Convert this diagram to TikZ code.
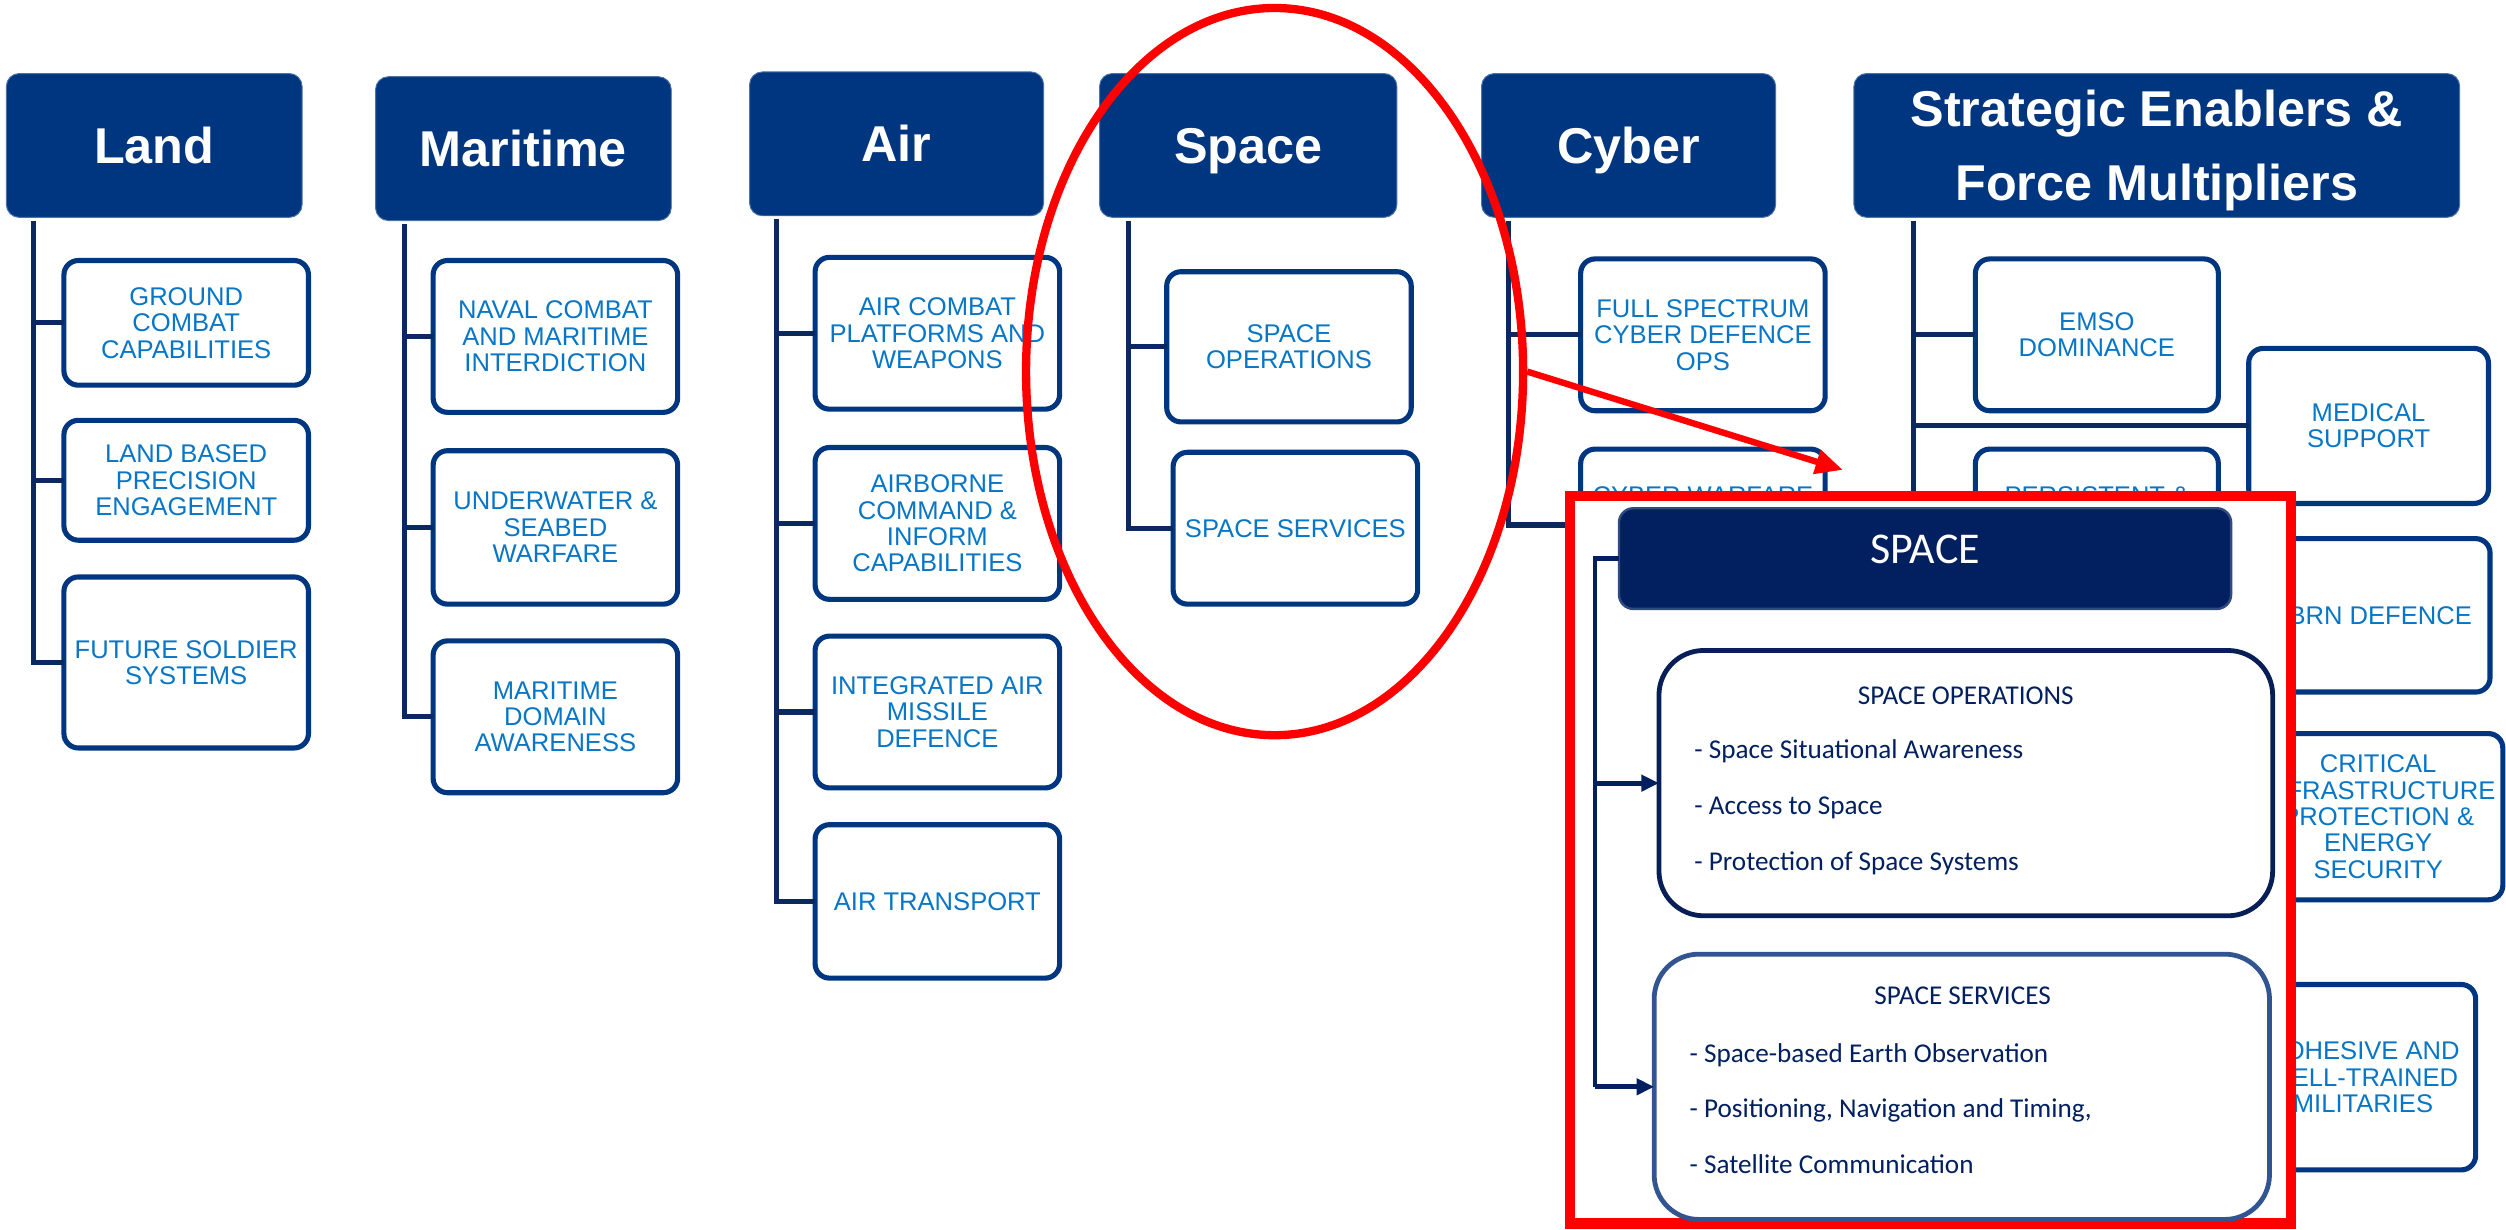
\documentclass[tikz,border=0pt]{standalone}
\usepackage{fontspec}
\setmainfont{Liberation Sans}
\newfontfamily\calibri{Carlito}
\usetikzlibrary{arrows.meta,shapes.geometric}

\definecolor{hdblue}{RGB}{0,54,128}
\definecolor{lnblue}{RGB}{12,40,96}
\definecolor{txblue}{RGB}{8,118,198}
\definecolor{spnavy}{RGB}{2,32,96}
\definecolor{spedge}{RGB}{47,75,130}
\definecolor{opsedge}{RGB}{8,30,86}
\definecolor{svedge}{RGB}{50,84,145}

\begin{document}
\begin{tikzpicture}[x=1pt,y=1pt,yscale=-1,xscale=1,
  hd/.style={fill=hdblue, draw=hdblue!70, line width=0.6pt, rounded corners=8pt, text=white, font=\fontsize{31.5}{46}\selectfont\bfseries, align=center, anchor=north west, inner sep=0pt, outer sep=0pt, minimum width=185, minimum height=90, text height=22.5pt, text depth=0pt},
  capbox/.style={draw=hdblue, line width=3.2pt, fill=white, rounded corners=9pt, text=txblue, font=\fontsize{16}{16.5}\selectfont, align=center, anchor=north west, inner sep=0pt, outer sep=0pt, minimum width=153},
  captxt/.style={text=txblue, font=\fontsize{16}{16.5}\selectfont, anchor=north, inner sep=0pt},
  trunk/.style={draw=lnblue, line width=3.2pt},
  sphd/.style={fill=spnavy, draw=spedge, line width=1.5pt, rounded corners=9pt, text=white, font=\calibri\fontsize{27.5}{30}\selectfont, anchor=north west, inner sep=0pt, outer sep=0pt, text height=17.7pt, text depth=12pt},
  spbox/.style={line width=3pt, fill=white, rounded corners=28pt, anchor=north west, inner sep=0pt, outer sep=0pt},
  sptxt/.style={text=spnavy, font=\calibri\fontsize{17}{20}\selectfont, inner sep=0pt, text height=11pt, text depth=0pt},
  spline/.style={draw=spnavy, line width=3pt},
  callout/.style={draw=red, line width=4pt}
]
\useasboundingbox (0,0) rectangle (1568,769);

%Rounded Rect Land
\draw (4,46) node [hd] (land) {Land};
\draw (40,163) node [capbox, minimum height=78] (land1) {GROUND\\COMBAT\\CAPABILITIES};
\draw (40,263) node [capbox, minimum height=75] (land2) {LAND BASED\\PRECISION\\ENGAGEMENT};
\draw (40,361) node [capbox, minimum height=107] (land3) {FUTURE SOLDIER\\SYSTEMS};
%Straight Lines
\coordinate (landT) at (21,138);
\draw[trunk] (landT) |- (land3.west);
\draw[trunk] (landT |- land1.west) -- (land1.west);
\draw[trunk] (landT |- land2.west) -- (land2.west);

%Rounded Rect Maritime
\draw (235,48) node [hd] (mar) {Maritime};
\draw (271,163) node [capbox, minimum height=95] (mar1) {NAVAL COMBAT\\AND MARITIME\\INTERDICTION};
\draw (271,282) node [capbox, minimum height=96] (mar2) {UNDERWATER \&\\SEABED\\WARFARE};
\draw (271,401) node [capbox, minimum height=95] (mar3) {MARITIME\\DOMAIN\\AWARENESS};
%Straight Lines
\coordinate (marT) at (253,140);
\draw[trunk] (marT) |- (mar3.west);
\draw[trunk] (marT |- mar1.west) -- (mar1.west);
\draw[trunk] (marT |- mar2.west) -- (mar2.west);

%Rounded Rect Air
\draw (469,45) node [hd, minimum width=184] (air) {Air};
\draw (510,161) node [capbox, minimum height=95] (air1) {AIR COMBAT\\PLATFORMS AND\\WEAPONS};
\draw (510,280) node [capbox, minimum height=95] (air2) {AIRBORNE\\COMMAND \&\\INFORM\\CAPABILITIES};
\draw (510,398) node [capbox, minimum height=95] (air3) {INTEGRATED AIR\\MISSILE\\DEFENCE};
\draw (510,516) node [capbox, minimum height=96] (air4) {AIR TRANSPORT};
%Straight Lines
\coordinate (airT) at (486,137);
\draw[trunk] (airT) |- (air4.west);
\draw[trunk] (airT |- air1.west) -- (air1.west);
\draw[trunk] (airT |- air2.west) -- (air2.west);
\draw[trunk] (airT |- air3.west) -- (air3.west);

%Rounded Rect Space
\draw (688,46) node [hd, minimum width=186] (spc) {Space};
\draw (730,170) node [capbox, minimum height=94] (spc1) {SPACE\\OPERATIONS};
\draw (734,283) node [capbox, minimum height=95] (spc2) {SPACE SERVICES};
%Straight Lines
\coordinate (spcT) at (706,138);
\draw[trunk] (spcT) |- (spc2.west);
\draw[trunk] (spcT |- spc1.west) -- (spc1.west);

%Rounded Rect Cyber
\draw (927,46) node [hd, minimum width=184] (cyb) {Cyber};
\draw (989,162) node [capbox, minimum height=95] (cyb1) {FULL SPECTRUM\\CYBER DEFENCE\\OPS};
\draw (989,281) node [capbox, minimum height=95] (cyb2) {};
% Text Node
\draw (cyb2.north |- 0,304.5) node [captxt] (cyb2txt) {CYBER WARFARE};
%Straight Lines
\coordinate (cybT) at (944,138);
\draw[trunk] (cybT) |- (cyb2.west);
\draw[trunk] (cybT |- cyb1.west) -- (cyb1.west);

%Rounded Rect Strategic Enablers
\draw (1160,46) node [hd, minimum width=379, text height=68.5pt] (sef) {Strategic Enablers \&\\Force Multipliers};
\draw (1236,162) node [capbox, minimum width=152, minimum height=95] (sef1) {EMSO\\DOMINANCE};
\draw (1236,281) node [capbox, minimum width=152, minimum height=95] (sef2) {};
% Text Node
\draw (sef2.north |- 0,304.5) node [captxt] (sef2txt) {PERSISTENT \&};
\draw (1407,218) node [capbox, minimum width=150, minimum height=97] (sef3) {MEDICAL\\SUPPORT};
\draw (1409,337) node [capbox, minimum width=149, minimum height=96] (sef4) {CBRN DEFENCE};
\draw (1410,459) node [capbox, minimum width=156, minimum height=104] (sef5) {CRITICAL\\INFRASTRUCTURE\\PROTECTION \&\\ENERGY\\SECURITY};
\draw (1408,616) node [capbox, minimum width=141, minimum height=116] (sef6) {COHESIVE AND\\WELL-TRAINED\\MILITARIES};
%Straight Lines
\coordinate (sefT) at (1197,138);
\draw[trunk] (sefT) |- (sef6.west);
\draw[trunk] (sefT |- sef1.west) -- (sef1.west);
\draw[trunk] (sefT |- sef3.west) -- (sef3.west);
\draw[trunk] (sefT |- sef2.west) -- (sef2.west);
\draw[trunk] (sefT |- sef4.west) -- (sef4.west);
\draw[trunk] (sefT |- sef5.west) -- (sef5.west);

%Ellipse and call-out arrow
\node [draw=red, line width=5.2pt, ellipse, minimum width=311, minimum height=455, inner sep=0pt] (focus) at (797.5,232.5) {};
\coordinate (zoomTip) at (1153,294);
\draw[callout, -{Triangle[length=17pt,width=15pt]}] (focus.east) -- (zoomTip);

%Zoom panel
\draw[red, line width=6.5pt, fill=white] (982.5,310.5) rectangle (1433.5,765.5);
\draw (1013,318) node [sphd, minimum width=383, minimum height=63] (spHead) {SPACE};
\draw (1038,407) node [spbox, draw=opsedge, minimum width=384, minimum height=166] (spOps) {};
\draw (1035,597) node [spbox, draw=svedge, minimum width=385, minimum height=166] (spSvc) {};
% Text Node
\draw (1230,435) node [sptxt] (opsHd) {SPACE OPERATIONS};
\draw (1060,469) node [sptxt, anchor=west] (ops1) {- Space Situational Awareness};
\draw (1060,504) node [sptxt, anchor=west] (ops2) {- Access to Space};
\draw (1060,539) node [sptxt, anchor=west] (ops3) {- Protection of Space Systems};
\draw (1228,623) node [sptxt] (svcHd) {SPACE SERVICES};
\draw (1057,659) node [sptxt, anchor=west] (svc1) {- Space-based Earth Observation};
\draw (1057,694) node [sptxt, anchor=west] (svc2) {- Positioning, Navigation and Timing,};
\draw (1057,729) node [sptxt, anchor=west] (svc3) {- Satellite Communication};
%Straight Lines
\coordinate (spT) at (998,349.5);
\draw[spline] (spHead.west) -- (spT) -- (spT |- spSvc.west);
\draw[spline, -{Triangle[length=11pt,width=10pt]}] (spT |- spOps.west) -- (spOps.west);
\draw[spline, -{Triangle[length=11pt,width=10pt]}] (spT |- spSvc.west) -- (spSvc.west);

\end{tikzpicture}
\end{document}
